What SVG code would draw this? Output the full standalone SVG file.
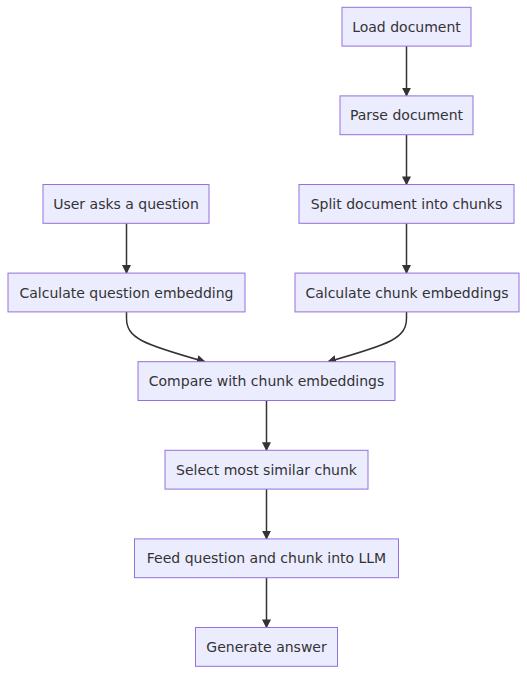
<svg xmlns="http://www.w3.org/2000/svg" width="527" height="674" viewBox="0 0 527 674">
<style>
.node rect{fill:#ECECFF;stroke:#9370DB;stroke-width:1}
.node text{font-family:"DejaVu Sans",Verdana,sans-serif;font-size:14px;fill:#333;text-anchor:middle}
.edge{fill:none;stroke:#333;stroke-width:1.5}
</style>
<defs>
<marker id="arr" viewBox="0 0 10 10" refX="9" refY="5" markerUnits="userSpaceOnUse" markerWidth="9" markerHeight="9" orient="auto">
<path d="M0,0 L10,5 L0,10 z" fill="#333"/>
</marker>
</defs>
<rect width="527" height="674" fill="#fff"/>
<g id="connectors">
<path class="edge" marker-end="url(#arr)" d="M406.5,46.1 L406.5,95.9"/>
<path class="edge" marker-end="url(#arr)" d="M406.5,134.7 L406.5,184.5"/>
<path class="edge" marker-end="url(#arr)" d="M406.5,223.3 L406.5,273.1"/>
<path class="edge" marker-end="url(#arr)" d="M126.5,223.3 L126.5,273.1"/>
<path class="edge" marker-end="url(#arr)" d="M126.5,311.9 L126.5,318 C126.5,338 142,344 205,361.7"/>
<path class="edge" marker-end="url(#arr)" d="M406.5,311.9 L406.5,318 C406.5,338 391,344 328,361.7"/>
<path class="edge" marker-end="url(#arr)" d="M266.5,400.5 L266.5,450.3"/>
<path class="edge" marker-end="url(#arr)" d="M266.5,489.1 L266.5,538.9"/>
<path class="edge" marker-end="url(#arr)" d="M266.5,577.7 L266.5,627.5"/>
</g>
<g id="load" class="node"><rect x="342" y="7.3" width="129" height="38.8"/><text x="406.5" y="31.7">Load document</text></g>
<g id="parse" class="node"><rect x="340" y="95.9" width="133" height="38.8"/><text x="406.5" y="120.3">Parse document</text></g>
<g id="split" class="node"><rect x="299" y="184.5" width="215" height="38.8"/><text x="406.5" y="208.9">Split document into chunks</text></g>
<g id="user" class="node"><rect x="43" y="184.5" width="166" height="38.8"/><text x="126" y="208.9">User asks a question</text></g>
<g id="calcq" class="node"><rect x="8" y="273.1" width="237" height="38.8"/><text x="126.5" y="297.5">Calculate question embedding</text></g>
<g id="calcc" class="node"><rect x="295" y="273.1" width="224" height="38.8"/><text x="407" y="297.5">Calculate chunk embeddings</text></g>
<g id="compare" class="node"><rect x="138" y="361.7" width="257" height="38.8"/><text x="266.5" y="386.1">Compare with chunk embeddings</text></g>
<g id="select" class="node"><rect x="165" y="450.3" width="203" height="38.8"/><text x="266.5" y="474.7">Select most similar chunk</text></g>
<g id="feed" class="node"><rect x="134.5" y="538.9" width="264" height="38.8"/><text x="266.5" y="563.3">Feed question and chunk into LLM</text></g>
<g id="gen" class="node"><rect x="195.5" y="627.5" width="142" height="38.8"/><text x="266.5" y="651.9">Generate answer</text></g>
</svg>
